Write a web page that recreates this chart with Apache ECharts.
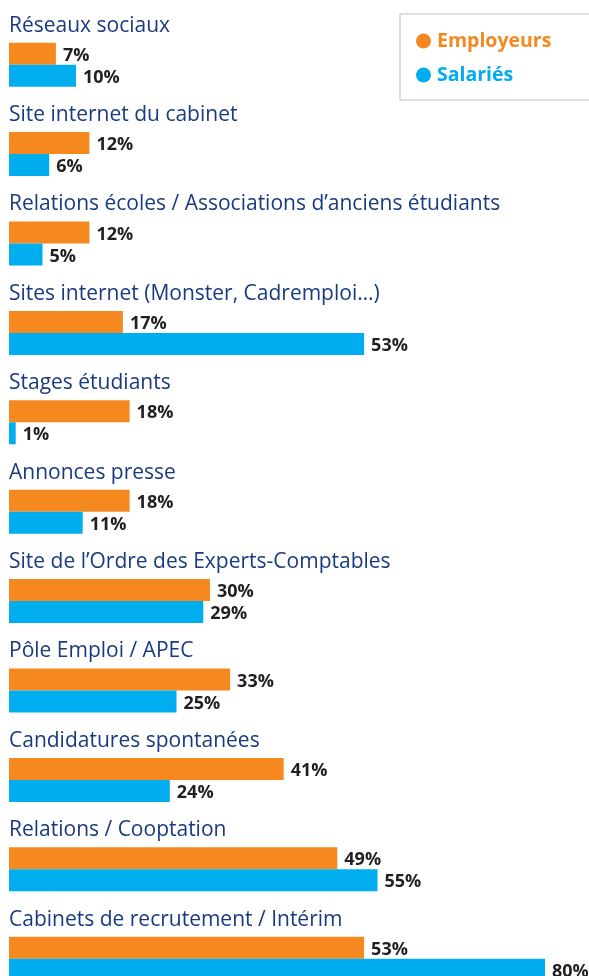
<!DOCTYPE html>
<html>
<head>
<meta charset="utf-8">
<script src="https://cdn.jsdelivr.net/npm/echarts@6/dist/echarts.min.js"></script>
<style>
  html, body { margin: 0; padding: 0; background: #fff; overflow: hidden; }
  #chart { width: 589px; height: 1010px; }
</style>
</head>
<body>
<div id="chart"></div>
<script>
// catégories, de haut en bas
const categories = [
  'Réseaux sociaux',
  'Site internet du cabinet',
  'Relations écoles / Associations d’anciens étudiants',
  'Sites internet (Monster, Cadremploi…)',
  'Stages étudiants',
  'Annonces presse',
  'Site de l’Ordre des Experts-Comptables',
  'Pôle Emploi / APEC',
  'Candidatures spontanées',
  'Relations / Cooptation',
  'Cabinets de recrutement / Intérim'
];
const employeurs = [7, 12, 12, 17, 18, 18, 30, 33, 41, 49, 53];
const salaries = [10, 6, 5, 53, 1, 11, 29, 25, 24, 55, 80];

const orange = '#F5891F';
const blue = '#00AEEF';

const chart = echarts.init(document.getElementById('chart'));

const valueLabel = {
  show: true,
  position: 'right',
  distance: 7,
  offset: [0, 2],
  formatter: '{c}%',
  color: '#231f20',
  fontFamily: 'Open Sans',
  fontWeight: 'bold',
  fontSize: 18
};

chart.setOption({
  animation: false,
  legend: {
    orient: 'vertical',
    left: 400,
    top: 14,
    padding: [17, 60, 15, 16],
    itemGap: 14,
    itemWidth: 15,
    itemHeight: 15,
    borderColor: '#d4d4d4',
    borderWidth: 1.5,
    icon: 'circle',
    textStyle: { fontFamily: 'Open Sans', fontWeight: 'bold', fontSize: 19.5, padding: [0, 0, 0, 1] },
    data: [
      { name: 'Employeurs', textStyle: { color: orange } },
      { name: 'Salariés', textStyle: { color: blue } }
    ]
  },
  grid: { left: 9, top: 20, width: 536, height: 983.4 },
  xAxis: {
    type: 'value',
    min: 0,
    max: 80,
    show: false
  },
  yAxis: {
    type: 'category',
    inverse: true,
    data: categories,
    axisLine: { show: false },
    axisTick: { show: false },
    axisLabel: {
      inside: true,
      margin: 0,
      align: 'left',
      verticalAlign: 'middle',
      formatter: v => '{t|' + v + '}\n{s| }',
      rich: {
        t: { color: '#1a3a80', fontFamily: 'Open Sans', fontSize: 21, lineHeight: 20 },
        s: { fontSize: 10, lineHeight: 78 }
      }
    }
  },
  series: [
    {
      name: 'Employeurs',
      type: 'bar',
      data: employeurs,
      barWidth: 22,
      barGap: '0%',
      itemStyle: { color: orange },
      label: valueLabel
    },
    {
      name: 'Salariés',
      type: 'bar',
      data: salaries,
      barWidth: 22,
      barGap: '0%',
      itemStyle: { color: blue },
      label: valueLabel
    }
  ]
});
</script>
</body>
</html>
